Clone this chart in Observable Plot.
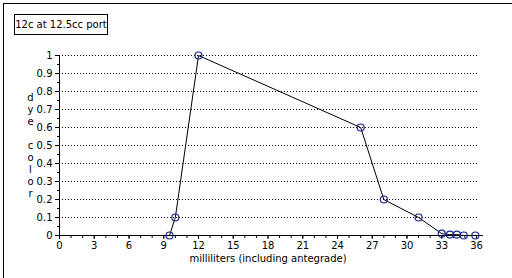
<!DOCTYPE html>
<html>
<head>
<meta charset="utf-8">
<script src="https://cdn.jsdelivr.net/npm/d3@7"></script>
<script src="https://cdn.jsdelivr.net/npm/@observablehq/plot@0.6"></script>
<style>
  html, body { margin: 0; padding: 0; background: #fff; }
  #wrap { position: relative; width: 512px; height: 278px; overflow: hidden; font-family: "DejaVu Sans", sans-serif; }
  #frame { position: absolute; left: 3px; top: 3px; width: 520px; height: 290px; border-left: 1.5px solid #000; border-top: 1.5px solid #000; }
  #title { position: absolute; left: 14px; top: 14px; width: 92px; height: 19px; border: 1px solid #000; font-size: 10px; line-height: 19px; text-align: center; background: #fff; }
  #chart { position: absolute; left: 0; top: 0; }
</style>
</head>
<body>
<div id="wrap">
  <div id="chart"></div>
  <div id="frame"></div>
  <div id="title">12c at 12.5cc port</div>
</div>
<script>
const milliliters = [9.5, 10, 12, 26, 28, 31, 33, 33.7, 34.3, 34.9, 35.9];
const dyeColor = [0, 0.1, 1, 0.6, 0.2, 0.1, 0.01, 0.005, 0.005, 0, 0];
const xTicks = d3.range(0, 37, 3);
const xMinor = d3.range(0, 37, 1);
const yTicks = d3.range(0, 1.01, 0.1).map(v => +v.toFixed(1));
const yMinor = d3.range(0, 1.01, 0.05).map(v => +v.toFixed(2));
const xLabel = "milliliters (including antegrade)";
const yLabel = "d\ny\ne\n\nc\no\nl\no\nr";

const data = milliliters.map((x, i) => ({x, y: dyeColor[i]}));

const plot = Plot.plot({
  width: 512,
  height: 278,
  marginLeft: 59,
  marginRight: 36,
  marginTop: 55,
  marginBottom: 43,
  style: {fontFamily: "DejaVu Sans, sans-serif", fontSize: "10px", background: "transparent", color: "#000"},
  x: {domain: [0, 36], axis: null},
  y: {domain: [0, 1], axis: null},
  marks: [
    Plot.ruleY(yTicks.filter(d => d > 0), {x1: 0, x2: 36.2, stroke: "#000", strokeWidth: 1, strokeDasharray: "1,2"}),
    Plot.ruleY([0], {x1: 0, x2: 36.6, stroke: "#000", strokeWidth: 1}),
    Plot.ruleX([0], {y1: 0, y2: 1, stroke: "#000", strokeWidth: 1}),
    Plot.axisX({ticks: xMinor, tickSize: 3, tickFormat: () => "", stroke: "#000", label: null}),
    Plot.axisX({ticks: xTicks, tickSize: 4, tickPadding: 2, fontSize: 10, stroke: "#000", fill: "#000", label: null}),
    Plot.axisY({ticks: yMinor, tickSize: 2, tickFormat: () => "", stroke: "#000", label: null}),
    Plot.axisY({ticks: yTicks, tickSize: 4, tickPadding: 3, fontSize: 10, stroke: "#000", fill: "#000", label: null, tickFormat: d => String(d)}),
    Plot.text([xLabel], {frameAnchor: "bottom", dy: 26, fontSize: 10, fill: "#000"}),
    Plot.text([yLabel], {frameAnchor: "left", dx: -29, textAnchor: "middle", fontSize: 10, lineHeight: 1.2, fill: "#000"}),
    Plot.line(data, {x: "x", y: "y", stroke: "#000", strokeWidth: 1}),
    Plot.dot(data, {x: "x", y: "y", r: 3.5, stroke: "#1a2590", strokeWidth: 1.2, fill: "none"})
  ]
});
document.getElementById("chart").appendChild(plot);
</script>
</body>
</html>
